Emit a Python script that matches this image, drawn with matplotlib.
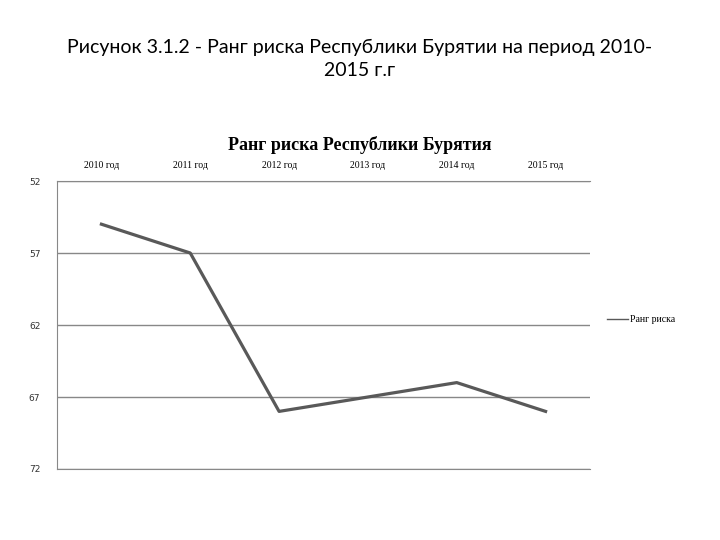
import matplotlib
matplotlib.use("Agg")
import matplotlib.pyplot as plt

years = ["2010 год", "2011 год", "2012 год", "2013 год", "2014 год", "2015 год"]
rank = [55, 57, 68, 67, 66, 68]
yticks = [52, 57, 62, 67, 72]

fig = plt.figure(figsize=(7.2, 5.4), dpi=100)
ax = fig.add_axes([57/720, 1-469/540, (590-57)/720, (469-181)/540])

x = list(range(len(years)))
ax.plot(x, rank, color="#595959", lw=2.3, label="Ранг риска")
ax.set_xlim(-0.5, len(years)-0.5)
ax.set_ylim(72, 52)
ax.set_yticks(yticks)
ax.set_yticklabels([str(v) for v in yticks], fontsize=6.5, family="DejaVu Sans", color="#333333")
ax.set_xticks(x)
ax.set_xticklabels(years, fontsize=7, family="Liberation Serif")
ax.xaxis.tick_top()
ax.tick_params(axis="x", length=0, pad=8)
ax.tick_params(axis="y", length=0, pad=12)
ax.grid(axis="y", color="#888888", lw=1)
ax.set_axisbelow(True)
ax.spines["right"].set_visible(False)
for s in ["top", "left", "bottom"]:
    ax.spines[s].set_color("#888888")

fig.text(0.5, 1-145/540, "Ранг риска Республики Бурятия", ha="center", va="center",
         fontsize=13, fontweight="bold", family="Liberation Serif")
fig.text(0.5, 1-59/540, "Рисунок 3.1.2 - Ранг риска Республики Бурятии на период 2010-\n2015 г.г",
         ha="center", va="center", fontsize=14, family="Lato", linespacing=1.45)

leg = fig.legend(loc="center left", bbox_to_anchor=(598/720, 1-320/540), frameon=False,
                 prop={"family": "Liberation Serif", "size": 7}, handlelength=2.2, handletextpad=0.2)
leg.get_lines()[0].set_linewidth(1)

fig.savefig("out.png", dpi=100, facecolor="white")
